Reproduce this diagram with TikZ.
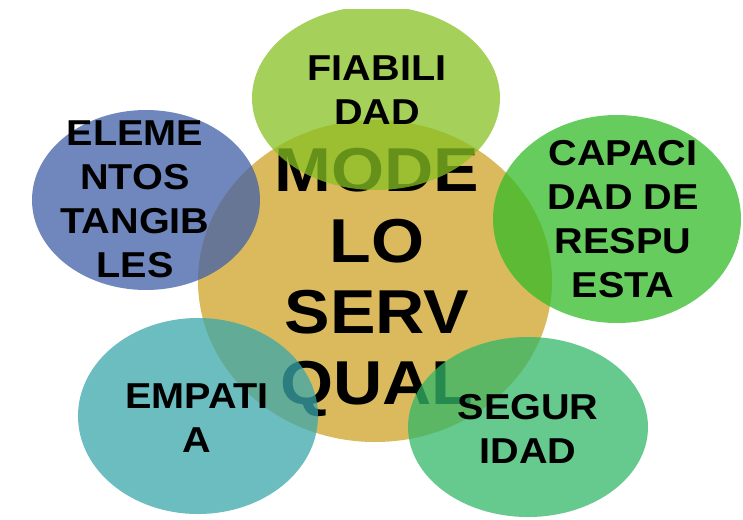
\documentclass[tikz,border=0pt]{standalone}
\usepackage{fontspec}
\setmainfont{Liberation Sans}[FakeStretch=1.1]
\usetikzlibrary{shapes.geometric}
\definecolor{cgold}{RGB}{218,186,92}
\definecolor{ctop}{RGB}{136,194,35}
\definecolor{cblue}{RGB}{64,96,168}
\definecolor{cright}{RGB}{51,187,40}
\definecolor{cteal}{RGB}{58,167,171}
\definecolor{cseg}{RGB}{51,183,104}
\tikzset{
  blob/.style={ellipse, inner sep=0pt, outer sep=0pt, fill opacity=0.75, draw=none},
  centerblob/.style={ellipse, inner sep=0pt, outer sep=0pt, fill=cgold, draw=none},
  lbl/.style={align=center, inner sep=0pt, text=black, font=\fontsize{36}{44}\selectfont\bfseries},
  biglbl/.style={align=center, inner sep=0pt, text=black, font=\fontsize{62}{71}\selectfont\bfseries},
}
\begin{document}
\begin{tikzpicture}[x=1pt,y=-1pt]
\useasboundingbox (0,0) rectangle (743,519);
\fill[white] (0,0) rectangle (743,519);
% central
\node[centerblob, minimum width=354pt, minimum height=322pt] (c) at (375,281) {};
\node[biglbl] (ct) at (377,282) {MODE\\LO\\SERV\\QUAL};
% top
\begin{scope}
\clip (0,10) rectangle (743,519);
\node[blob, fill=ctop, minimum width=248pt, minimum height=184pt] (t) at (376,98) {};
\end{scope}
\node[lbl] (tt) at (377,90) {FIABILI\\DAD};
% left
\node[blob, fill=cblue, minimum width=228pt, minimum height=180pt] (l) at (146,200) {};
\node[lbl] (lt) at (135,199) {ELEME\\NTOS\\TANGIB\\LES};
% right
\node[blob, fill=cright, minimum width=248pt, minimum height=208pt] (r) at (617,219) {};
\node[lbl] (rt) at (623,219) {CAPACI\\DAD DE\\RESPU\\ESTA};
% bottom left
\node[blob, fill=cteal, minimum width=240pt, minimum height=196pt] (bl) at (198,416) {};
\node[lbl] (blt) at (197,418) {EMPATI\\A};
% bottom right
\node[blob, fill=cseg, minimum width=240pt, minimum height=180pt] (br) at (528,427) {};
\node[lbl] (brt) at (528,429) {SEGUR\\IDAD};
\end{tikzpicture}
\end{document}
